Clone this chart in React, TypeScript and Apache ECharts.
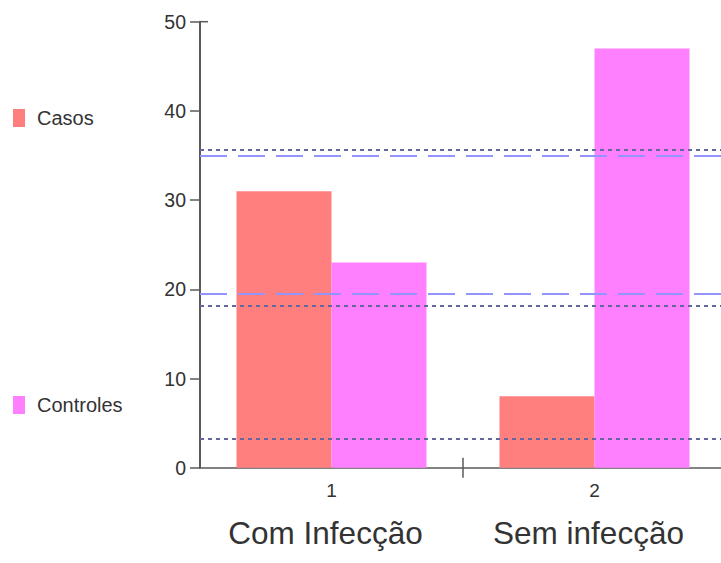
import React, { useEffect, useRef } from "react";
import * as echarts from "echarts";

const categories = ["1", "2"];
const groupNames = ["Com Infecção", "Sem infecção"];
const casos = [31, 8];
const controles = [23, 47];
const dashedLevels = [35.0, 19.5];
const dottedLevels = [35.7, 18.1, 3.2];

export default function App() {
  const ref = useRef<HTMLDivElement>(null);
  useEffect(() => {
    if (!ref.current) return;
    const chart = echarts.init(ref.current, null, { renderer: "svg" });
    const axisColor = "#5a5a5a";
    const textColor = "#333";
    const font = "Liberation Sans, Arial, sans-serif";
    chart.setOption({
      animation: false,
      backgroundColor: "#fff",
      textStyle: { fontFamily: font },
      legend: {
        orient: "vertical",
        left: 8,
        top: 103,
        itemGap: 267,
        itemWidth: 12,
        itemHeight: 18,
        icon: "rect",
        textStyle: { fontSize: 20, color: textColor, fontFamily: font, padding: [0, 0, 0, 7] },
        data: ["Casos", "Controles"],
      },
      grid: { left: 200, top: 21.7, width: 526, bottom: 95.3, containLabel: false },
      xAxis: [
        {
          type: "category",
          data: categories,
          position: "bottom",
          axisLine: { lineStyle: { color: axisColor, width: 1.5 } },
          axisTick: { show: false },
          axisLabel: { fontSize: 19, color: textColor, margin: 13, fontFamily: font },
        },
        {
          type: "category",
          data: groupNames,
          position: "bottom",
          offset: 0,
          axisLine: { show: false },
          axisTick: { show: false },
          axisLabel: {
            fontSize: 31.5,
            color: "#333",
            margin: 49,
            fontFamily: font,
            padding: [0, 12, 0, 0],
          },
        },
      ],
      yAxis: {
        type: "value",
        min: 0,
        max: 50,
        interval: 10,
        splitLine: { show: false },
        axisLine: { show: true, lineStyle: { color: axisColor, width: 2 } },
        axisTick: { show: true, length: 10, lineStyle: { color: axisColor, width: 1.5 } },
        axisLabel: { fontSize: 19.5, color: textColor, margin: 14, fontFamily: font },
      },
      series: [
        {
          name: "Casos",
          type: "bar",
          data: casos,
          barWidth: 95,
          barGap: "0%",
          itemStyle: { color: "#ff7f7f" },
        },
        {
          name: "Controles",
          type: "bar",
          data: controles,
          barWidth: 95,
          barGap: "0%",
          itemStyle: { color: "#ff80ff" },
          markLine: {
            silent: true,
            symbol: "none",
            z: 10,
            label: { show: false },
            data: [
              ...dashedLevels.map((v) => ({
                yAxis: v,
                lineStyle: { color: "#9494ff", width: 2, type: [27, 11] },
              })),
              ...dottedLevels.map((v) => ({
                yAxis: v,
                lineStyle: { color: "#66669f", width: 1.8, type: [4, 4] },
              })),
            ],
          },
        },
      ],
    });

    const cx0 = chart.convertToPixel({ xAxisIndex: 0 }, categories[0]) as number;
    const cx1 = chart.convertToPixel({ xAxisIndex: 0 }, categories[1]) as number;
    const boundary = (cx0 + cx1) / 2;
    const leftX = cx0 - (cx1 - cx0) / 2;
    const y0 = chart.convertToPixel({ yAxisIndex: 0 }, 0) as number;
    const yTop = chart.convertToPixel({ yAxisIndex: 0 }, 50) as number;
    chart.setOption({
      graphic: [
        {
          type: "line",
          shape: { x1: boundary, y1: y0 - 10, x2: boundary, y2: y0 + 10 },
          style: { stroke: axisColor, lineWidth: 1.5 },
          z: 20,
        },
        {
          type: "line",
          shape: { x1: leftX, y1: yTop, x2: leftX + 8, y2: yTop },
          style: { stroke: axisColor, lineWidth: 1.5 },
          z: 20,
        },
      ],
    });

    return () => chart.dispose();
  }, []);
  return (
    <div
      style={{
        position: "absolute",
        left: 0,
        top: 0,
        width: 721,
        height: 563,
        overflow: "hidden",
      }}
    >
      <div ref={ref} style={{ width: 732, height: 563 }} />
    </div>
  );
}
